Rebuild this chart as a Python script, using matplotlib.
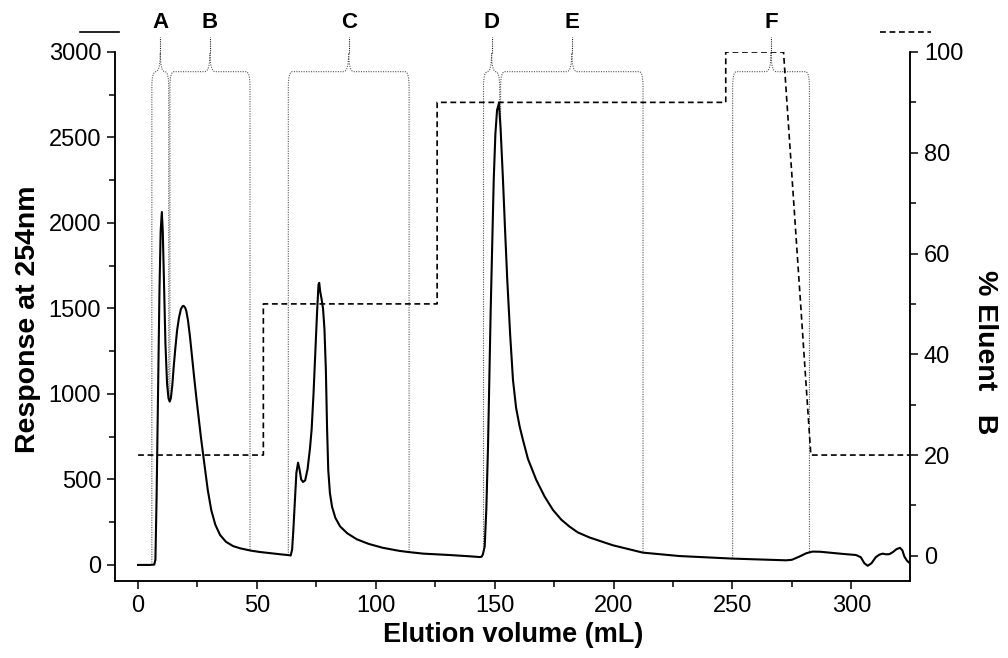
import matplotlib
matplotlib.use('Agg')
import matplotlib.pyplot as plt
import numpy as np
from matplotlib.path import Path
from matplotlib.patches import PathPatch
from matplotlib.lines import Line2D
from matplotlib.ticker import MultipleLocator

plt.rcParams['font.family'] = ['Liberation Sans', 'DejaVu Sans']

# --- UV trace (mL, response at 254 nm) ---
volume = [0, 5, 6.8, 7.3, 7.8, 8.4, 9.0, 9.5, 10.0, 10.4, 10.9, 11.5, 12.2, 12.8,
          13.3, 13.8, 14.4, 15.0, 15.7, 16.4, 17.2, 18.0, 18.7, 19.2, 19.8, 20.3,
          21.0, 21.8, 22.6, 23.5, 24.5, 25.5, 26.5, 27.8, 29.3, 30.8, 32.5, 34.5,
          37, 40, 43, 47.3, 51, 56, 60, 63.5, 64.2,
          64.8, 65.3, 66.0, 66.6, 67.3, 67.9, 68.6, 69.4, 70.3, 71.3, 72.3, 73.0,
          73.8, 74.6, 75.3, 75.9, 76.2, 76.6, 77.2, 77.8, 78.4, 79.0, 79.5, 80.0,
          80.7, 81.6, 83, 85, 88, 92, 97, 103, 110, 114, 120, 131, 140, 143.7,
          144.5, 145.0, 145.8, 146.5, 147.2, 148.3, 149.0, 149.6, 150.3, 151.0,
          151.8, 152.5, 153.5, 154.4, 155.3, 156.5, 157.7, 159.0, 160.5, 161.9,
          164, 167.5, 171, 174.5, 178, 181.5, 185, 190, 199.7, 212.3, 227.7,
          250.1, 265, 272.5, 275, 278.2, 281, 283.7,
          287, 290.8, 296, 302, 304, 305.5, 306.9, 308.5, 310.3, 311.8, 313.2,
          314.6, 316.0, 317.5, 319.0, 320.5, 321.5, 322.3, 323.4, 324.4]
response = [0, 0, 2, 30, 400, 1000, 1600, 1950, 2064, 1950, 1650, 1300, 1060, 975,
            955, 975, 1050, 1160, 1270, 1370, 1445, 1495, 1513, 1515, 1505, 1485,
            1430, 1340, 1230, 1110, 980, 860, 740, 600, 440, 320, 235, 175,
            135, 110, 97, 84, 76, 68, 62, 57, 55,
            90, 200, 380, 540, 598, 560, 500, 485, 495, 560, 680, 790,
            1000, 1250, 1480, 1640, 1650, 1600, 1555, 1500, 1380, 1140, 800, 556,
            420, 340, 275, 225, 185, 150, 123, 100, 82, 75, 66, 58, 50, 46,
            48, 60, 107, 330, 692, 1474, 1900, 2251, 2520, 2660,
            2700, 2550, 2251, 1950, 1667, 1350, 1082, 920, 810, 731,
            620, 497, 400, 322, 265, 224, 190, 160, 115, 72, 52,
            37, 30, 27, 30, 49, 68, 78,
            77, 72, 65, 58, 45, 10, -5, 10, 45, 60, 66,
            62, 63, 75, 92, 100, 85, 50, 25, 13]

# --- gradient programme (% eluent B) ---
grad_volume = [0, 52.7, 52.7, 125.8, 125.8, 247.2, 247.2, 271.5, 283.0, 325]
grad_percent = [20, 20, 50, 50, 90, 90, 100, 100, 20, 20]

# --- collected fractions ---
frac_names = ['A', 'B', 'C', 'D', 'E', 'F']
frac_start = [5.8, 13.4, 63.2, 145.3, 152.5, 250.1]
frac_end = [12.9, 47.1, 114.0, 152.1, 212.4, 282.4]

fig = plt.figure(figsize=(10.08, 6.58), dpi=100)
ax = fig.add_axes([115 / 1008, 1 - 581 / 658, 795 / 1008, 529 / 658])
ax2 = ax.twinx()

ax.plot(volume, response, color='black', lw=1.5, zorder=3)
ax2.plot(grad_volume, grad_percent, color='black', lw=1.2, ls=(0, (3.5, 2.2)))

ax.set_xlim(-9.7, 324.7)
ax.set_ylim(-94, 3000)
ax2.set_ylim(-5, 100)

# fraction braces drawn above the plot area
y_top, y_cusp, y_stem, y_lab = 2885, 2994, 3088, 3175
dot = dict(color='#555555', lw=0.8, ls=(0, (1, 1.2)))
for name, x0, x1 in zip(frac_names, frac_start, frac_end):
    xc = (x0 + x1) / 2
    rx, ry = 1.6, 90
    cw = min(2.2, (x1 - x0) / 2 - rx)
    b0 = np.interp(x0, volume, response)
    b1 = np.interp(x1, volume, response)
    verts = [(x0, b0), (x0, y_top - ry), (x0, y_top), (x0 + rx, y_top),
             (xc - cw, y_top), (xc, y_top), (xc, y_cusp), (xc, y_top), (xc + cw, y_top),
             (x1 - rx, y_top), (x1, y_top), (x1, y_top - ry), (x1, b1)]
    codes = [Path.MOVETO, Path.LINETO, Path.CURVE3, Path.CURVE3,
             Path.LINETO, Path.CURVE3, Path.CURVE3, Path.CURVE3, Path.CURVE3,
             Path.LINETO, Path.CURVE3, Path.CURVE3, Path.LINETO]
    ax.add_patch(PathPatch(Path(verts, codes), fill=False, clip_on=False,
                           edgecolor=dot['color'], lw=dot['lw'], ls=dot['ls'], zorder=2))
    ax.plot([xc, xc], [y_cusp, y_stem], color='#222222', lw=0.8, ls=(0, (1, 1)),
            clip_on=False)
    ax.text(xc, y_lab, name, ha='center', va='center', fontsize=16,
            fontweight='bold', clip_on=False)

for a in (ax, ax2):
    a.spines['top'].set_visible(False)
    for s in a.spines.values():
        s.set_linewidth(1.1)
    a.tick_params(which='major', length=6, width=1.1, labelsize=17, pad=4)
    a.tick_params(which='minor', length=4, width=1.1)

ax.xaxis.set_major_locator(MultipleLocator(50))
ax.xaxis.set_minor_locator(MultipleLocator(25))
ax.yaxis.set_major_locator(MultipleLocator(500))
ax.yaxis.set_minor_locator(MultipleLocator(250))
ax2.yaxis.set_major_locator(MultipleLocator(20))
ax2.yaxis.set_minor_locator(MultipleLocator(10))

fig.text(513 / 1008, 1 - 635 / 658, 'Elution volume (mL)', ha='center', va='center',
         fontsize=19.5, fontweight='bold')
fig.text(28 / 1008, 1 - 319 / 658, 'Response at 254nm', ha='center', va='center',
         rotation=90, fontsize=20.5, fontweight='bold')
fig.text(985 / 1008, 1 - 352 / 658, '% Eluent   B', ha='center', va='center',
         rotation=-90, fontsize=20.5, fontweight='bold')

# legend line stubs at the top corners
fig.add_artist(Line2D([80 / 1008, 119 / 1008], [1 - 32 / 658] * 2, color='black', lw=1.2))
fig.add_artist(Line2D([880 / 1008, 931 / 1008], [1 - 32 / 658] * 2, color='black',
                      lw=1.2, ls=(0, (3.5, 2.2))))

fig.savefig('out.png', dpi=100)
